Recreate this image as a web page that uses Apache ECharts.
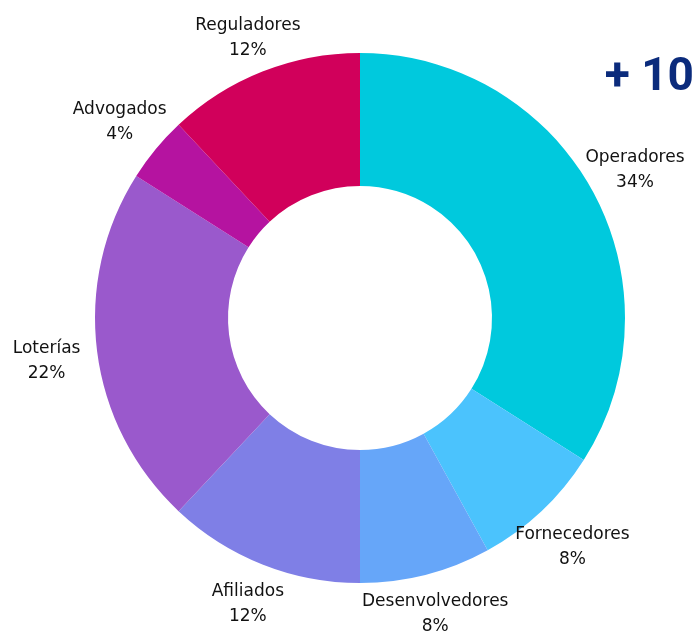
<!DOCTYPE html>
<html>
<head>
<meta charset="utf-8">
<script src="https://cdn.jsdelivr.net/npm/echarts@6/dist/echarts.min.js"></script>
<style>
  html, body { margin: 0; padding: 0; background: #fff; }
  #chart { width: 696px; height: 631px; }
</style>
</head>
<body>
<div id="chart"></div>
<script>
const categories = ['Operadores', 'Fornecedores', 'Desenvolvedores', 'Afiliados', 'Loterías', 'Advogados', 'Reguladores']
const shares = [34, 8, 8, 12, 22, 4, 12]
const colors = ['#00C9DD', '#4BC3FD', '#66A6F9', '#7F7FE6', '#9A59CC', '#B513A0', '#D1005B']
const badge = '+ 10'

const cx = 360, cy = 318, rOuter = 265, rInner = 132
const total = shares.reduce((a, b) => a + b, 0)

const chart = echarts.init(document.getElementById('chart'))

// centre each label on the slice's mid angle, a bit further out at the sides
function placeLabel(params) {
    const i = params.dataIndex
    let before = 0
    for (let k = 0; k < i; k++) before += shares[k]
    const a = (before + shares[i] / 2) / total * Math.PI * 2
    const s = Math.sin(a), c = -Math.cos(a)
    const d = 298 + 18 * Math.abs(s)
    return {
        x: cx + s * d,
        y: cy + c * d + 3,
        align: 'center',
        verticalAlign: 'middle'
    }
}

chart.setOption({
    animation: false,
    graphic: [{
        type: 'text',
        right: 2,
        top: 55,
        style: {
            text: badge,
            fill: '#0B2B7C',
            font: 'bold 46px Roboto, sans-serif'
        }
    }],
    series: [{
        type: 'pie',
        center: [cx, cy],
        radius: [rInner, rOuter],
        startAngle: 90,
        clockwise: true,
        avoidLabelOverlap: false,
        itemStyle: { borderWidth: 0 },
        label: {
            show: true,
            position: 'outside',
            formatter: p => `${p.name}\n${p.value}%`,
            color: '#111',
            fontFamily: 'DejaVu Sans',
            fontSize: 17,
            lineHeight: 25,
            align: 'center'
        },
        labelLine: { show: false },
        labelLayout: placeLabel,
        emphasis: { disabled: true },
        data: categories.map((name, i) => ({
            name,
            value: shares[i],
            itemStyle: { color: colors[i] }
        }))
    }]
})
</script>
</body>
</html>
